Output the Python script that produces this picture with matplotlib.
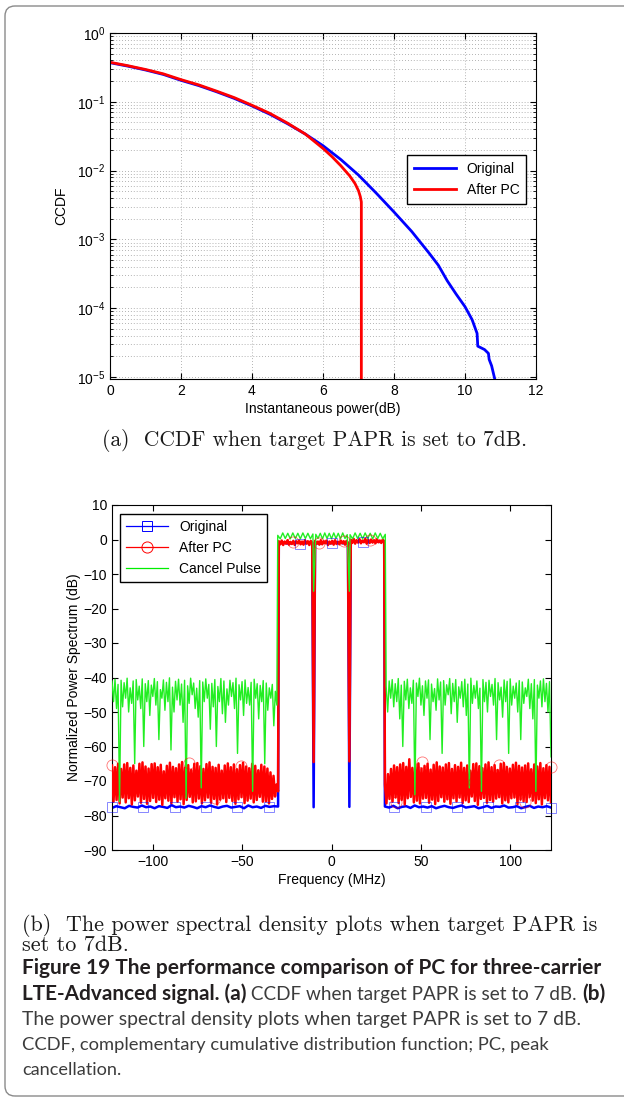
import numpy as np
import matplotlib
matplotlib.use("Agg")
import matplotlib.pyplot as plt
from matplotlib.patches import FancyBboxPatch
from matplotlib.transforms import IdentityTransform
from matplotlib.lines import Line2D

plt.rcParams['font.family'] = ['Liberation Sans', 'DejaVu Sans']
plt.rcParams['mathtext.fontset'] = 'custom'
plt.rcParams['mathtext.rm'] = 'Liberation Sans'
plt.rcParams['mathtext.it'] = 'Liberation Sans:italic'
plt.rcParams['mathtext.bf'] = 'Liberation Sans:bold'

W, H = 624, 1099

# ---------------- (a) CCDF data ----------------
orig_db = [0.0, 0.5, 1.0, 1.5, 2.0, 2.5, 3.0, 3.5, 4.0, 4.5, 5.0, 5.5, 6.0,
           6.5, 7.0, 7.5, 8.0, 8.5, 9.0, 9.25, 9.5, 9.75, 10.0, 10.2, 10.34,
           10.36, 10.55, 10.66, 10.68, 10.75, 10.85]
orig_ccdf = [0.37, 0.33, 0.29, 0.25, 0.205, 0.172, 0.14, 0.112, 0.087, 0.066,
             0.048, 0.034, 0.023, 0.0145, 0.0086, 0.0047, 0.0025, 0.0013,
             0.00062, 0.00042, 0.00025, 0.00016, 0.000105, 0.000068,
             0.000043, 0.000028, 0.000025, 0.000022, 0.000018, 0.0000145,
             0.0000088]
pc_db = [0.0, 0.5, 1.0, 1.5, 2.0, 2.5, 3.0, 3.5, 4.0, 4.5, 5.0, 5.5, 6.0,
         6.25, 6.5, 6.75, 6.9, 7.0, 7.05, 7.08, 7.08]
pc_ccdf = [0.375, 0.335, 0.295, 0.255, 0.21, 0.176, 0.143, 0.115, 0.089,
           0.068, 0.049, 0.034, 0.021, 0.016, 0.0118, 0.0084, 0.0065, 0.0051,
           0.0042, 0.0035, 0.000001]

# ---------------- (b) PSD data ----------------
# out-of-band, left and right of the three carriers (peak / trough pairs)
cancel_left_peak = [-41, -40.5, -42, -40.8, -41.5, -40.2, -43, -41, -40.6, -42.5,
                    -40.4, -41.8, -40.9, -42.2, -40.3, -41.2, -43.5, -40.7, -41.4, -40.1,
                    -42.8, -41.1, -40.5, -41.9, -40.8, -42.4, -40.2, -41.6, -43.1, -40.9,
                    -41.3, -40.4, -42.0, -41.7, -40.6, -42.6, -40.3, -41.0, -43.3, -40.8,
                    -41.5, -40.2, -42.1, -41.2, -40.7, -42.9, -41.4, -40.5, -41.8, -42.3,
                    -40.9, -41.6, -43.0, -42.0, -44.0]
cancel_left_trough = [-47, -49, -76, -48.5, -46, -50, -47.5, -65, -46.5, -49,
                      -60, -47, -51, -45.5, -48, -58, -46, -49.5, -47, -61,
                      -50, -46.5, -48, -53, -75, -47.5, -45, -49, -51.5, -72,
                      -47, -46, -55, -48.5, -60, -47, -50.5, -53, -48, -45.5,
                      -49, -62, -46.5, -51, -47.5, -48, -73, -46, -52, -47,
                      -65, -49.5, -46, -54, -48]
cancel_right_peak = [-42.5, -41, -40.6, -41.8, -40.3, -42.2, -41.1, -40.5, -43.0, -40.8,
                     -41.6, -40.2, -42.4, -41.0, -40.7, -41.9, -43.2, -40.4, -41.3, -40.9,
                     -42.1, -40.3, -41.7, -40.6, -42.7, -41.2, -40.5, -41.9, -40.2, -42.3,
                     -41.0, -43.1, -40.6, -41.4, -40.8, -42.0, -40.3, -41.5, -42.8, -40.7,
                     -41.1, -40.4, -42.5, -41.6, -40.9, -41.3, -43.0, -40.5, -41.8, -40.6,
                     -42.2, -41.0, -40.4, -41.7, -41.2]
cancel_right_trough = [-50, -46, -48.5, -47, -52, -60, -46.5, -49, -47.5, -74,
                       -45.5, -48, -51, -46, -58, -47, -49.5, -46.5, -62, -48,
                       -45, -50.5, -47, -53, -46, -48.5, -51, -72, -47.5, -46,
                       -49, -73, -47, -50, -45.5, -48, -58, -46.5, -51.5, -47,
                       -62, -48, -46, -50, -58, -47.5, -45.5, -49, -52, -73,
                       -46, -48.5, -47, -50, -63]

pc_left_peak = [-65.5, -66, -65, -66.5, -65.2, -64.8, -66.2, -65.5, -67, -65,
                -64.6, -65.8, -66.4, -65.1, -64.9, -66, -65.3, -67.2, -65.6, -64.7,
                -65.9, -66.3, -65.2, -64.5, -66.1, -65.4, -66.8, -65, -64.8, -65.7,
                -66.5, -65.1, -64.6, -65.9, -66.2, -65.3, -67, -65.5, -64.9, -66,
                -65.2, -66.6, -65.4, -64.7, -65.8, -66.3, -65, -65.6, -66.9, -65.3,
                -65.8, -66.4, -67.5, -68.5, -71]
pc_left_trough = [-76, -75.5, -76.5, -74.8, -76.2, -75, -76.8, -75.6, -74.5, -76.3,
                  -75.2, -76.6, -75.8, -74.9, -76.1, -75.4, -76.9, -75, -75.7, -76.4,
                  -74.7, -76, -75.3, -76.7, -75.5, -74.6, -76.2, -75.9, -75.1, -76.5,
                  -75.6, -74.8, -76.3, -75.2, -76.8, -75.4, -75, -76.1, -74.9, -75.8,
                  -76.6, -75.3, -74.7, -76.4, -75.7, -75.1, -76.2, -75.5, -74.6, -76,
                  -75.9, -76.5, -75.2, -74.5, -73]
pc_right_peak = [-71, -68, -66.5, -65.5, -66, -65.2, -64.8, -65.9, -63.7, -66.2,
                 -65.1, -64.9, -66.4, -65.6, -65, -66.7, -65.3, -64.6, -65.8, -66.1,
                 -65.2, -64.8, -66.5, -65.4, -65.9, -64.7, -66.2, -65.5, -67, -65.1,
                 -64.9, -65.7, -66.3, -65.2, -64.6, -66, -65.4, -66.8, -65, -64.8,
                 -65.9, -66.4, -65.3, -64.7, -65.6, -66.1, -65.5, -64.9, -66.6, -65.2,
                 -65.8, -64.8, -66.3, -65.4, -65.9]
pc_right_trough = [-76.5, -75.2, -76, -74.8, -76.4, -75.5, -76.8, -75, -74.6, -76.2,
                   -75.7, -76.5, -75.1, -74.9, -76.3, -75.4, -76.7, -75.8, -74.7, -76,
                   -75.3, -76.6, -75, -75.9, -74.8, -76.4, -75.6, -76.1, -74.5, -75.8,
                   -76.9, -75.2, -74.9, -76.3, -75.5, -76, -75.1, -74.7, -76.5, -75.6,
                   -76.2, -75, -74.8, -76.7, -75.4, -75.9, -76.1, -74.6, -75.7, -76.4,
                   -75.3, -76.8, -75, -75.6, -76.2]

orig_left = [-77.8, -77.3, -77.6, -77.9, -77.2, -77.5, -77.7, -77.1, -77.6, -77.4,
             -77.9, -77.3, -77.5, -77.8, -77.0, -77.6, -77.4, -77.7, -77.2, -77.5,
             -77.9, -77.3, -77.6, -77.1, -77.5, -77.8, -77.4, -77.2, -77.7, -77.5,
             -77.3, -77.9, -77.1, -77.6, -77.4, -77.8, -77.2, -77.5, -77.3, -77.4]
orig_right = [-77.4, -77.7, -77.2, -77.9, -77.5, -77.3, -77.8, -77.1, -77.6, -77.4,
              -77.7, -77.3, -77.9, -77.5, -77.2, -77.6, -77.8, -77.4, -77.1, -77.7,
              -77.5, -77.3, -77.9, -77.6, -77.2, -77.8, -77.4, -77.5, -77.1, -77.7,
              -77.6, -77.3, -77.9, -77.5, -77.2, -77.8, -77.4, -77.6, -77.3, -77.7]

# in-band levels of the three carriers
pc_band1 = [-0.5, -1.4, -0.3, -1.6, -0.6, -1.2, -0.2, -1.5, -0.7, -1.3, -0.4, -1.6,
            -0.5, -1.1, -0.3, -1.4, -0.6, -1.5, -0.2, -1.2, -0.5, -1.6, -0.4, -1.0]
pc_band2 = [-0.4, -1.3, -0.6, -1.5, -0.2, -1.4, -0.5, -1.1, -0.3, -1.6, -0.6, -1.2,
            -0.4, -1.5, -0.2, -1.3, -0.7, -1.4, -0.3, -1.1, -0.5, -1.5, -0.4, -0.9]
pc_band3 = [-0.1, -1.0, 0.2, -1.2, -0.2, -0.9, 0.1, -1.1, -0.3, -0.8, 0.2, -1.2,
            -0.1, -1.0, 0.0, -0.9, -0.2, -1.1, 0.1, -0.8, -0.3, -1.0, 0.0, -0.6]
orig_band1 = [-1.1, -0.9, -1.2, -1.0, -0.8, -1.1, -1.0, -0.9]
orig_band2 = [-1.0, -1.2, -0.9, -1.1, -1.0, -0.8, -1.1, -1.0]
orig_band3 = [-0.6, -0.5, -0.7, -0.4, -0.6, -0.5, -0.7, -0.5]
cancel_band1 = [1.2, 0.2, 1.9, 0.3, 1.8, 0.2, 1.9, 0.3, 1.8, 0.2, 1.9, 0.3, 1.8, 0.2, 1.6]
cancel_band2 = [1.5, 0.3, 1.8, 0.2, 1.9, 0.3, 1.8, 0.2, 1.9, 0.3, 1.8, 0.2, 1.9, 0.3, 1.4]
cancel_band3 = [1.4, 0.2, 1.9, 0.3, 1.8, 0.2, 1.9, 0.3, 1.8, 0.2, 1.9, 0.3, 1.8, 0.2, 1.5]

# notches between the carriers
notch_freq = [-10.0, 10.0]
orig_notch = [-77.6, -77.5]
pc_notch = [-64.5, -64.3]
cancel_notch = [-15.0, -15.0]

# marker samples
orig_mark_freq = [-122.88, -105.33, -87.78, -70.22, -52.66, -35.11, -17.55, 0.0,
                  17.55, 35.11, 52.66, 70.22, 87.78, 105.33, 122.88]
orig_mark_db = [-77.6, -77.5, -77.4, -77.6, -77.5, -77.5, -1.2, -1.0,
                -0.6, -77.6, -77.4, -77.5, -77.6, -77.5, -77.7]
pc_mark_freq = [-122.88, -108.42, -93.97, -79.51, -65.05, -50.60, -36.14, -21.68,
                -7.23, 7.23, 21.68, 36.14, 50.60, 65.05, 79.51, 93.97, 108.42, 122.88]
pc_mark_db = [-65.4, -70.5, -69.7, -64.9, -75.0, -65.7, -70.0, -0.8,
              -0.9, -0.5, -0.2, -76.0, -64.6, -69.7, -70.2, -65.4, -76.0, -65.9]

FS = 122.88  # half of the 245.76 MHz sample rate


def pairs(peak, trough):
    return np.column_stack([peak, trough]).ravel()


def spectrum(left, right, b1, b2, b3, notch, lo, hi, edge):
    # frequency bins of each segment
    fl = np.linspace(-FS, -edge, len(left))
    fr = np.linspace(edge, FS, len(right))
    f1 = np.linspace(-hi, -lo, len(b1))
    f2 = np.linspace(-lo + 1.6, lo - 1.6, len(b2))
    f3 = np.linspace(lo, hi, len(b3))
    f = np.concatenate([fl, f1, notch_freq[:1], f2, notch_freq[1:], f3, fr])
    v = np.concatenate([left, b1, notch[:1], b2, notch[1:], b3, right])
    return f, v


f_o, v_o = spectrum(orig_left, orig_right, orig_band1, orig_band2, orig_band3,
                    orig_notch, 10.8, 29.5, 29.9)
f_p, v_p = spectrum(pairs(pc_left_peak, pc_left_trough), pairs(pc_right_peak, pc_right_trough),
                    pc_band1, pc_band2, pc_band3, pc_notch, 10.8, 29.5, 29.9)
f_c, v_c = spectrum(pairs(cancel_left_peak, cancel_left_trough),
                    pairs(cancel_right_peak, cancel_right_trough),
                    cancel_band1, cancel_band2, cancel_band3, cancel_notch, 10.4, 30.1, 30.6)

fig = plt.figure(figsize=(W / 100, H / 100), dpi=100)

# ---------------- top axes ----------------
ax1 = fig.add_axes([110 / W, 1 - 379 / H, 426 / W, 346 / H])
ax1.semilogy(orig_db, orig_ccdf, color='#0000ff', lw=2.0, label='Original')
ax1.semilogy(pc_db, pc_ccdf, color='#ff0000', lw=2.0, label='After PC')
ax1.set_xlim(0, 12)
ax1.set_ylim(10 ** -5.03, 1)
ax1.set_xticks(range(0, 13, 2))
ax1.grid(True, which='major', ls=(0, (1, 2.5)), color='#9a9a9a', lw=0.6)
ax1.grid(True, which='minor', axis='y', ls=(0, (1, 2.5)), color='#9a9a9a', lw=0.6)
ax1.tick_params(which='both', direction='in', top=True, right=True, labelsize=10)
ax1.tick_params(which='major', length=4)
ax1.tick_params(which='minor', length=2.5)
ax1.set_xlabel('Instantaneous power(dB)', fontsize=10, labelpad=3)
ax1.set_ylabel('CCDF', fontsize=10, labelpad=6)
ax1.legend(loc='upper left', bbox_to_anchor=(0.697, 0.647), borderaxespad=0,
           fancybox=False, edgecolor='black', framealpha=1, fontsize=10,
           handlelength=3.0, borderpad=0.5)
for s in ax1.spines.values():
    s.set_linewidth(0.8)

# ---------------- bottom axes ----------------
ax2 = fig.add_axes([112 / W, 1 - 850 / H, 439 / W, 345 / H])
ax2.plot(f_o, v_o, color='#0000ff', lw=1.8, zorder=2)
ax2.plot(f_p, v_p, color='#ff0000', lw=1.8, zorder=3)
ax2.plot(f_c, v_c, color='#22ee22', lw=1.0, zorder=4)
ax2.plot(orig_mark_freq, orig_mark_db, ls='none', marker='s', ms=7.5, mfc='none',
         mec='#0000ff', mew=0.6, alpha=0.55, zorder=5, clip_on=False)
ax2.plot(pc_mark_freq, pc_mark_db, ls='none', marker='o', ms=8, mfc='none',
         mec='#ff0000', mew=0.6, alpha=0.55, zorder=5, clip_on=False)
ax2.set_xlim(-FS, FS)
ax2.set_ylim(-90, 10)
ax2.set_xticks([-100, -50, 0, 50, 100])
ax2.set_yticks(range(-90, 11, 10))
ax2.tick_params(direction='in', top=True, right=True, labelsize=10, length=4)
ax2.set_xlabel('Frequency (MHz)', fontsize=10, labelpad=3)
ax2.set_ylabel('Normalized Power Spectrum (dB)', fontsize=10, labelpad=2)
for s in ax2.spines.values():
    s.set_linewidth(0.8)
handles = [Line2D([], [], color='#0000ff', lw=0.9, marker='s', ms=7.5, mfc='none', mew=0.7),
           Line2D([], [], color='#ff0000', lw=0.9, marker='o', ms=8, mfc='none', mew=0.7),
           Line2D([], [], color='#00ee00', lw=0.9)]
ax2.legend(handles, ['Original', 'After PC', 'Cancel Pulse'], loc='upper left',
           bbox_to_anchor=(0.018, 0.974), borderaxespad=0, fancybox=False,
           edgecolor='black', framealpha=1, fontsize=10, handlelength=3.0,
           borderpad=0.45)

# ---------------- captions ----------------
def px(x, y):
    return x / W, 1 - y / H


fig.text(*px(315, 446), '(a)  CCDF when target PAPR is set to 7dB.', family='cmr10',
         fontsize=15.5, ha='center', va='baseline', color='#1a1a1a')
fig.text(*px(22, 931), '(b)  The power spectral density plots when target PAPR is',
         family='cmr10', fontsize=15.9, va='baseline', color='#1a1a1a')
fig.text(*px(22, 951), 'set to 7dB.', family='cmr10', fontsize=15.9, va='baseline',
         color='#1a1a1a')

renderer = fig.canvas.get_renderer()


def runs(y, parts, right):
    # lay the pieces side by side, then shrink/grow the line to its right edge
    scale = 1.0
    for attempt in range(2):
        x = 22
        made = []
        for s, bold in parts:
            t = fig.text(*px(x, y), s, family=['Lato', 'DejaVu Sans'],
                         fontsize=(15.1 if bold else 13.8) * scale,
                         fontweight='bold' if bold else 'normal', va='baseline',
                         color='#231f20' if bold else '#3c3c3c')
            made.append(t)
            x += t.get_window_extent(renderer).width
        if attempt == 0:
            scale = (right - 22) / (x - 22)
            for t in made:
                t.remove()


runs(974, [('Figure 19 The performance comparison of PC for three-carrier', True)], 603)
runs(1000, [('LTE-Advanced signal. (a)', True),
            (' CCDF when target PAPR is set to 7 dB. ', False), ('(b)', True)], 604)
runs(1025, [('The power spectral density plots when target PAPR is set to 7 dB.', False)], 578)
runs(1050, [('CCDF, complementary cumulative distribution function; PC, peak', False)], 546)
runs(1075, [('cancellation.', False)], 121)

# rounded frame around the figure
frame = FancyBboxPatch((5, H - 1096), 700, 1090, boxstyle='round,pad=0,rounding_size=10',
                       transform=IdentityTransform(), fill=False, ec='#8a8a8a', lw=1.0)
fig.add_artist(frame)

fig.savefig('out.png', dpi=100)
